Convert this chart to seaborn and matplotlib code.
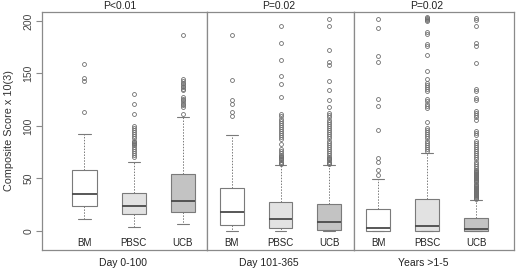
import matplotlib
matplotlib.use("Agg")
import matplotlib.pyplot as plt
import seaborn as sns

sns.set_style("white")
plt.rcParams['font.family'] = ['Liberation Sans', 'DejaVu Sans']

# data
grafts = ["BM", "PBSC", "UCB"]
periods = ["Day 0-100", "Day 101-365", "Years >1-5"]
p_values = ["P<0.01", "P=0.02", "P=0.02"]
box_colors = ["#ffffff", "#e2e2e2", "#c3c3c3"]

# one row per period, one value per graft
whisk_lo = [[11.2, 3.5, 6.0], [0.0, 0.0, 0.0], [0.0, 0.0, 0.0]]
q1 = [[23.3, 16.2, 17.6], [5.3, 2.6, 0.8], [0.0, 0.0, 0.0]]
median = [[35.4, 23.3, 28.5], [17.6, 10.9, 8.2], [2.9, 4.5, 1.3]]
q3 = [[57.6, 36.2, 54.5], [41.2, 27.2, 25.6], [21.0, 30.2, 11.8]]
whisk_hi = [[92.0, 65.8, 108.7], [91.6, 63.0, 63.0], [49.3, 73.8, 29.3]]

outliers_early = [
    [113, 143, 146, 159],
    [70, 72, 74, 76, 78, 80, 82, 83, 84, 85, 86, 88, 90, 92, 94, 96, 98, 100,
     111, 121, 130],
    [111, 118, 120, 121, 123, 125, 126, 128, 134, 135, 137, 138, 140, 141, 143,
     145, 187],
]
outliers_mid = [
    [109, 113, 121, 125, 144, 187],
    [64, 65, 66, 67, 68, 69, 70, 71, 72, 74, 76, 78, 83, 87, 89, 91, 93, 95, 97,
     99, 101, 103, 105, 107, 109, 111, 128, 140, 148, 163, 179, 195],
    [64, 65, 66, 67, 68, 69, 70, 72, 74, 76, 78, 80, 82, 84, 86, 88, 90, 92, 94,
     96, 98, 100, 102, 104, 106, 108, 110, 112, 118, 125, 134, 143, 158, 161,
     172, 195, 202],
]
outliers_late = [
    [53, 58, 66, 69, 96, 119, 126, 161, 167, 193, 202],
    [76, 78, 80, 82, 84, 86, 88, 90, 92, 94, 96, 98, 104, 117, 119, 121, 124,
     126, 133, 135, 137, 139, 141, 145, 152, 168, 176, 178, 188, 190, 200, 201,
     202, 203, 204],
    [30, 31, 32, 33, 34, 35, 36, 37, 38, 39, 40, 41, 42, 43, 44, 45, 46, 47, 48,
     49, 50, 51, 52, 53, 54, 55, 56, 57, 58, 60, 62, 64, 66, 68, 70, 72, 74, 76,
     78, 80, 82, 84, 86, 91, 93, 95, 106, 108, 110, 112, 114, 125, 127, 133,
     135, 160, 176, 179, 195, 201, 203],
]
outliers = [outliers_early, outliers_mid, outliers_late]

# panel layout (pixels in a 520x271 figure)
W, H = 520, 271
panel_px = [(42.3, 206.7), (206.7, 354.3), (354.3, 514.3)]
xlims = [(0.142, 3.486), (0.488, 3.512), (0.51, 3.776)]
title_x = [0.473, 0.485, 0.454]
xlabel_x = [0.493, 0.422, 0.431]

fig = plt.figure(figsize=(W / 100, H / 100), dpi=100)
frame_col = "#8a8a8a"
edge_col = "#7a7a7a"

for i, period in enumerate(periods):
    left, right = panel_px[i]
    ax = fig.add_axes([left / W, 21 / H, (right - left) / W, 238 / H])
    stats = []
    for j, g in enumerate(grafts):
        stats.append(dict(label=g, whislo=whisk_lo[i][j], q1=q1[i][j],
                          med=median[i][j], q3=q3[i][j],
                          whishi=whisk_hi[i][j], fliers=outliers[i][j]))
    bp = ax.bxp(stats, positions=[1, 2, 3], widths=0.49, patch_artist=True,
                boxprops=dict(edgecolor=edge_col, linewidth=0.8),
                medianprops=dict(color="#4a4a4a", linewidth=1.3),
                whiskerprops=dict(color=edge_col, linewidth=0.7,
                                  linestyle=(0, (1.5, 1.5))),
                capprops=dict(color=edge_col, linewidth=0.8),
                flierprops=dict(marker="o", markersize=2.8, markerfacecolor="none",
                                markeredgecolor="#6e6e6e", markeredgewidth=0.6))
    for patch, c in zip(bp["boxes"], box_colors):
        patch.set_facecolor(c)

    ax.set_xlim(*xlims[i])
    ax.set_ylim(-18.4, 208.6)
    ax.set_xticks([])
    for j, g in enumerate(grafts):
        ax.text(j + 1, 0.031, g, transform=ax.get_xaxis_transform(),
                ha="center", va="center", fontsize=7, color="#222222")

    for s in ax.spines.values():
        s.set_color(frame_col)
        s.set_linewidth(0.9)
        s.set_visible(True)

    ax.set_title(p_values[i], x=title_x[i], y=1.026, va="center", pad=0,
                 fontsize=7.5, color="#222222")
    ax.set_xlabel(period, fontsize=7.5, color="#222222")
    ax.xaxis.set_label_coords(xlabel_x[i], -0.056)
    ax.xaxis.label.set_va("center")

    if i == 0:
        ax.set_yticks([0, 50, 100, 150, 200])
        ax.tick_params(axis="y", left=True, length=4, width=0.8,
                       color=frame_col, pad=2.5, labelsize=7.5,
                       labelcolor="#444444")
        for lbl in ax.get_yticklabels():
            lbl.set_rotation(90)
            lbl.set_va("center")
        ax.set_ylabel("Composite Score x 10(3)", fontsize=7.8, color="#333333")
        ax.yaxis.set_label_coords(-(left - 9.3) / (right - left), 0.5)
        ax.yaxis.label.set_va("center")
    else:
        ax.set_yticks([])

fig.savefig("out.png", dpi=100)
